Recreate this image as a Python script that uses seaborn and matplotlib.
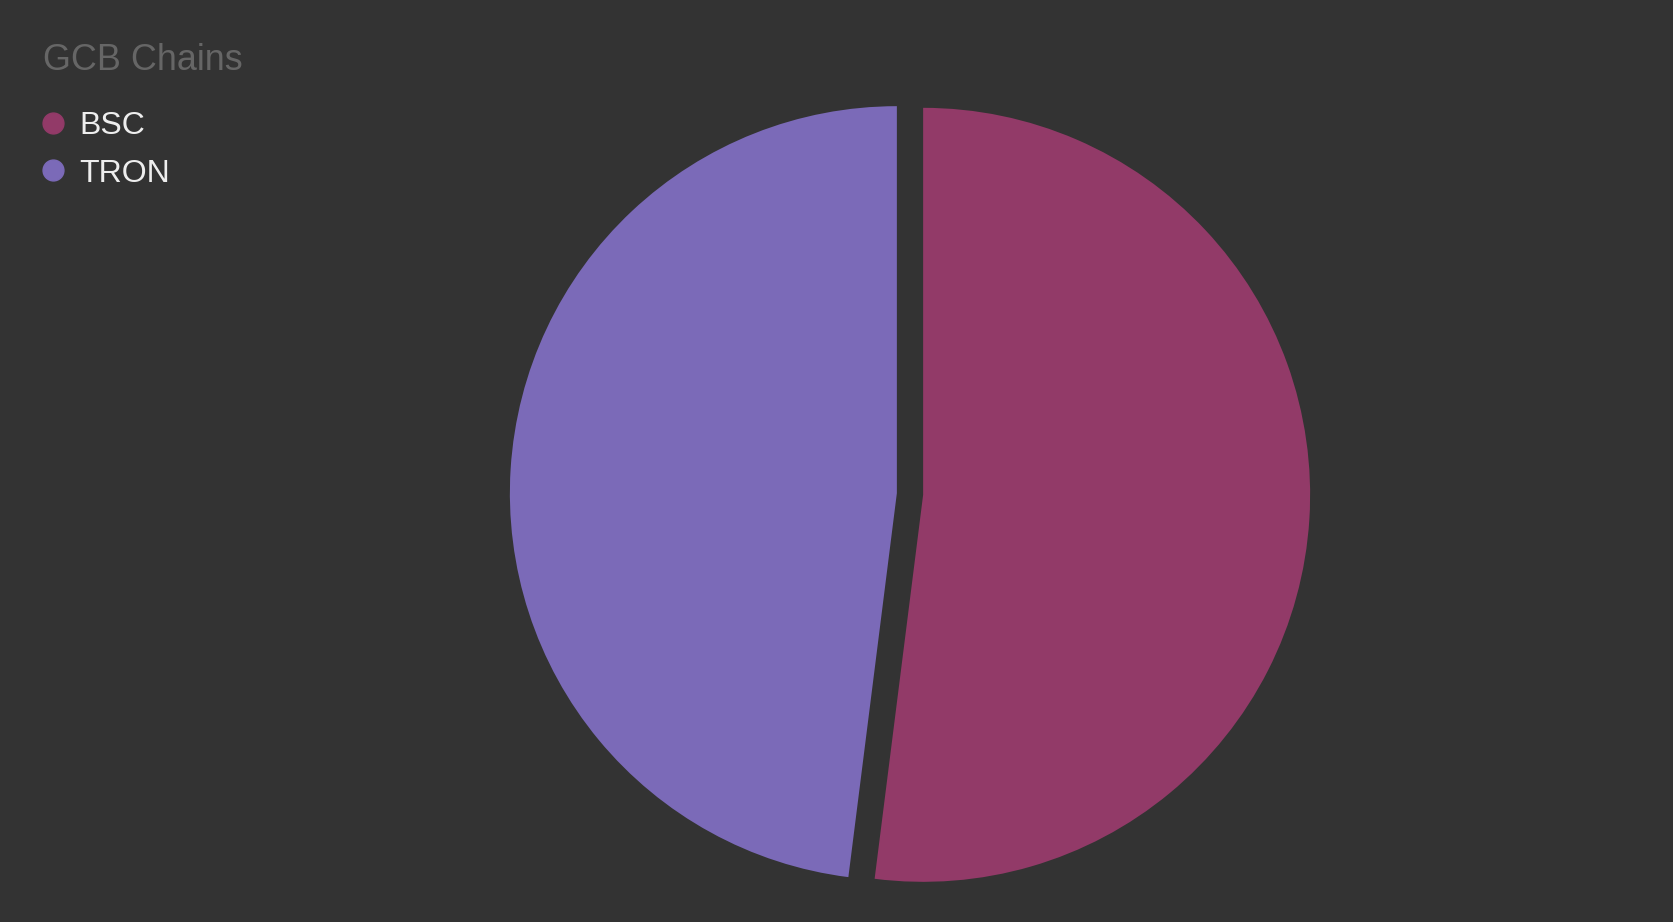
import matplotlib
matplotlib.use("Agg")
import matplotlib.pyplot as plt
import seaborn as sns
from matplotlib.lines import Line2D

# 数据
chains = ["BSC", "TRON"]
shares = [52.0, 48.0]
chain_colors = ["#923A68", "#7B6AB8"]

BG = "#333333"
W, H = 1674, 922

sns.set_theme(style="dark", rc={"figure.facecolor": BG, "axes.facecolor": BG})
plt.rcParams['font.family'] = ['Liberation Sans', 'DejaVu Sans']

fig = plt.figure(figsize=(W / 100, H / 100), dpi=100)

# 饼图位置（像素换算）
R = 387
cx, cy = 910, H - 494
span = 1.2
side = 2 * span * R
ax = fig.add_axes([(cx - side / 2) / W, (cy - side / 2) / H, side / W, side / H])
ax.set_facecolor(BG)

ax.pie(
    shares,
    colors=chain_colors,
    startangle=90,
    counterclock=False,
    explode=[0.034, 0.034],
    wedgeprops=dict(linewidth=0),
)
ax.set_xlim(-span, span)
ax.set_ylim(-span, span)
ax.set_aspect("equal")
ax.axis("off")

fig.text(43 / W, 1 - 70 / H, "GCB Chains", fontsize=25.8, color="#666666", va="baseline")

handles = [Line2D([], [], marker="o", linestyle="", markersize=15, color=c) for c in chain_colors]
leg = fig.legend(
    handles, chains,
    loc="upper left",
    bbox_to_anchor=(37.5 / W, 1 - 111 / H),
    frameon=False,
    fontsize=23,
    handlelength=1.0,
    handletextpad=0.3,
    labelspacing=0.55,
    borderpad=0,
    borderaxespad=0,
)
for t in leg.get_texts():
    t.set_color("#eeeeee")

fig.savefig("out.png", dpi=100, facecolor=BG)
